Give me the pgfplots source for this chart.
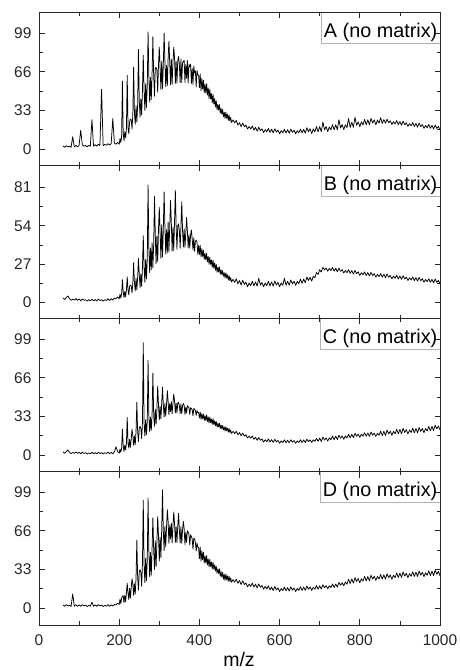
\documentclass[border=0pt]{standalone}
\usepackage{pgfplots}
\usepackage{pgfplotstable}
\pgfplotsset{compat=1.18}
\usepackage{fontspec}
\setmainfont{Liberation Sans}

\pgfplotstableread{
x a b c d
60 2.6 3.1 2.6 2.6
64 1.4 1.9 1.4 1.4
68 2.8 3.3 2.8 2.8
72 1.7 4.5 4.2 1.7
76 2.4 2.6 2.3 2.4
80 1.3 1.4 1.2 1.2
84 10.5 2.1 2.0 12
88 1.7 1.6 1.4 1.5
92 3.0 2.6 2.5 2.7
96 1.8 1.4 1.3 1.4
100 3.1 2.4 2.2 2.6
104 16 1.1 1.0 1.4
108 3.4 2.4 2.3 2.8
112 2.3 1.4 1.3 1.7
116 3.0 1.9 1.9 2.4
120 1.8 0.8 0.8 1.2
124 3.0 1.8 1.7 2.2
128 2.2 1.1 1.0 1.5
132 25 2.2 2.2 5
136 2.4 1.0 1.0 1.4
140 3.6 2.0 2.0 2.6
144 2.4 0.9 0.9 1.4
148 4.0 2.3 2.3 2.8
152 2.9 1.2 1.2 1.7
156 51 1.9 1.9 2.4
160 2.6 0.8 0.8 1.2
164 3.8 1.8 1.8 2.2
168 3.2 1.3 1.3 1.5
172 4.5 2.5 2.3 2.7
176 3.3 1.3 1.0 1.4
180 4.5 2.6 2.1 2.6
184 26 1.6 1.0 1.6
188 5.0 3.0 2.6 3.0
192 4.0 2.5 7 2.5
196 5.6 3.8 3.0 4.0
200 4 2.5 1.5 3
202 8.9 5.7 5 7.5
204 5.5 3 2.3 3.8
206 10.3 6 5.7 8.1
208 58 16 22 10
210 13.5 7.5 7.8 10.5
212 6.8 3.3 2.9 4.2
214 14.7 7.6 8.3 10.9
216 9.6 4.1 4.3 5.4
218 17.1 8.6 9.8 12.5
220 63 18 32 21
222 18.5 8.8 10.2 12.9
224 13 5.2 5.8 7.2
226 23.6 11.3 13.2 16.8
228 25.4 12.1 6.6 8.4
230 25 11.6 13.6 17.3
232 17 6.6 22 25
234 29.6 13.7 16.2 20.5
236 70 28 8.2 10.8
238 30.7 13.8 16.3 20.7
240 21 8 9 12
242 36.8 17 20 25.6
244 23 8.8 45 58
246 37.9 17.5 20.3 26.6
248 85 31 11.4 15.2
250 42.2 19.9 22.8 30.4
252 27 10.4 24.4 32.8
254 42.7 20 22.8 30.8
256 29 11.2 13.8 18.4
258 50.7 24.7 27.7 37.9
260 80 47 96 92
262 50.4 25.1 27.2 37.6
264 33 14.2 16.2 21.6
266 55.8 30.3 30.1 42.5
268 35.4 16.4 17.4 23.2
270 54.9 31.1 29.2 41.6
272 100 83 81 94
274 62.1 37.9 33.2 48.4
276 40 20.8 19.8 26.4
278 61.1 38.4 32.3 47.3
280 42 23 21 28
282 64.4 42 34.5 50.8
284 96 24.4 70 77
286 62.4 41 34.2 49.6
288 45 75 24.6 32.8
290 69.4 48 39.2 57.4
292 69.6 27.2 26.4 35.2
294 67.4 46.7 38.9 56.2
296 48.4 28.6 59 78
298 72 51.7 42.4 61.6
300 87 67 30 40
302 69.6 49.5 41.4 60.4
304 50.8 31 30.8 43
306 75.2 54.9 44.6 67.3
308 51.6 32 58 101
310 72.4 52 43 66.2
312 99 78 32.4 49
314 74.4 53.8 44.1 69.6
316 53.2 34 33.2 52
318 71.6 51.2 42.8 68.8
320 54 35 55 84
322 77.4 56.5 45.7 74.2
324 92 35.4 34.4 55.2
326 73.9 53.3 44 70.8
328 54.8 72 37 59
330 76.9 56 45.5 72.6
332 55.2 36.2 35.2 55.6
334 73.5 52.9 43.9 69.5
336 87 36.6 52 82
338 78 57 46 72.3
340 56 79 36 56
342 74.6 53.7 44.2 69.3
344 56.2 37.4 35.8 55.8
346 75.6 54 44.2 69.6
348 79 55.4 45 81
350 72.3 50.8 42.3 66.8
352 56.6 38.2 35.4 55.4
354 76.8 53.8 43.7 69.5
356 56.8 71 35.2 55.2
358 73.6 50.8 41.9 66.8
360 75 39 44 74
362 75.7 51.8 42.4 67.7
364 56.8 38.8 34.6 54.2
366 72.2 48.9 40.8 64.5
368 60.4 60 35.8 56
370 75.5 50.5 42 66
372 56.4 38.4 41.4 64.8
374 72.1 47.8 40.4 62.9
376 70 38.2 34.6 53.7
378 72.5 47.5 40.4 62.4
380 56 51 39.8 61.2
382 68.7 44.9 38.7 59
384 55 37 33.4 50.2
386 70.9 45.7 39.6 59.7
388 65 36 39.4 59
390 66.7 42.9 37.8 55.9
392 53 44 33.8 48.6
394 67 42.7 37.9 55.4
396 63.1 34 36.2 52
398 63 40.1 36.2 51.6
400 52.4 33.8 31.6 42.2
402 64 40.3 36.7 52.1
404 49.8 32 30.4 40
406 60.1 37.8 35.2 48.7
408 51.1 32.4 31 41.1
410 58.8 36.8 34.9 47.5
412 48 30.3 29.5 38.5
414 55.2 34.5 33.4 44.4
416 47.8 30 29.5 38.3
418 55.7 34.5 34.2 44.7
420 46 28.6 28.6 36.8
422 52.1 32.4 32.5 41.9
424 43 26.8 27.3 35
426 50.9 31.9 32.4 41.5
428 42.8 26.8 27.7 35.4
430 47.2 29.8 30.7 39.1
432 39.4 24.7 26.2 33.3
434 46.6 29.8 30.9 39.1
436 38.3 24.1 26 33
438 43 27.7 29.2 36.8
440 35.8 22.6 25 31.6
442 41.2 26.8 28.6 35.7
444 33.4 21.2 23.8 29.6
446 38.2 24.9 27 33.4
448 33.2 21.4 24 29.4
450 37.8 24.9 27.1 33.4
452 30.5 19.8 22.6 27.1
454 34.8 23 25.6 31.1
456 29.6 19.5 22.3 26.3
458 33.7 22.4 25.2 30.4
460 27.6 18.4 21.4 24.6
462 31.3 20.8 23.9 28.5
464 26 17.2 20.4 23.5
466 31.5 20.8 24.1 29
468 26.2 17.2 20.6 24.1
470 29.6 19.4 22.9 27.4
472 24.3 15.8 19.4 22.8
474 28.9 18.8 22.5 27
476 23.9 15.4 19.2 22.8
478 27 17.4 21.3 25.6
480 22.6 14.4 18.4 22
484 24.8 16.2 20.1 24.2
488 22.2 14 18.3 22
492 24.4 16.6 20.2 24.6
496 20.4 13 17.3 21
500 22.4 15.4 19.1 23.4
504 19 12.2 16.4 20
508 22.2 15.6 18.7 23.2
512 19 12.6 16.2 20
516 20.4 14.2 17.2 21.4
520 17 11 14.5 18
524 19.2 13.6 16.1 20.4
528 17 11.8 14.3 18.4
532 19.6 14.8 16.2 21.2
536 16 11.6 13.3 17.8
540 18.4 14.4 15.1 20.4
544 15.2 11.4 12.5 17.2
548 18.6 17 14.9 20.6
552 15.6 12.2 12.5 17.6
556 17.2 14 13.6 19.2
560 14 11 11 16
564 16.5 13.6 12.9 18.3
568 14.6 11.8 11.4 16.2
572 17.5 14.8 13.6 18.9
576 14.2 11.6 11 15.4
580 16.9 14.4 13.1 17.9
584 13.8 11.4 10.7 14.8
588 17.3 15 13.3 18.3
592 14.4 12.2 11.1 15.4
596 16.1 14 12.4 17.1
600 13 11 10 14
604 15.6 13.7 11.9 16.6
608 13.8 12 10.6 14.8
612 16.8 17 12.9 17.8
616 13.6 12 10.4 14.6
620 16.4 14.9 12.6 17.4
624 13.4 12 10.3 14.4
628 17 15.7 13 18
632 14.2 13 10.9 15.2
636 16 14.9 12.3 17
640 13 12 10 14
644 15.6 14.8 11.9 16.7
648 13.8 13.2 10.6 15
652 16.9 16.4 13 18.1
656 13.8 13.4 10.5 15
660 16.7 16.4 12.9 17.9
664 13.5 13.8 10.6 15
668 18.1 17.8 13.4 18.7
672 14.7 15.4 11.4 16
676 17.3 17.6 12.9 17.9
680 13.1 15 10.7 15
684 17.1 18.4 12.9 17.7
688 14.6 17.4 11.6 16
692 19.2 21 14.1 19.1
696 14.6 19.7 11.7 16
700 19.1 23 14.4 18.9
704 14.8 21.4 11.5 16.1
708 23 24.7 15.3 19.8
712 16.3 22.9 12.7 17.2
716 19.1 24.3 14.6 19.1
720 14.8 22 11.8 16.3
724 18.8 23.9 14.6 19
728 16.3 22.4 12.9 17.4
732 20.9 24.6 16.1 20.5
736 16.3 22 13 17.5
740 20.7 24.1 16 20.4
744 16.3 21.6 13.2 17.8
748 25 24.2 16.9 21.8
752 17.9 21.9 14.3 19.4
756 20.8 23.1 16.2 21.6
760 16.5 20.7 13.4 19
764 20.6 22.5 16.2 22.2
768 18.2 20.9 14.5 20.3
772 26 23.1 17.7 24.5
776 18.3 20.4 14.6 20.8
780 22.8 22.4 17.6 24.8
784 18.5 20 14.8 21.2
788 27 22.5 18.5 25.9
792 20.2 20.2 15.9 22.6
796 23.1 21.5 17.8 25.1
800 19 19 15 21.5
804 23.1 20.9 17.7 25
808 20.5 19.4 16 22.9
812 25.2 21.5 19 26.9
816 20.5 18.9 15.9 23
820 24.9 21 18.8 26.8
824 20.6 18.6 15.9 23.2
828 26.1 21.1 19.6 27.9
832 22.1 18.9 16.8 24.6
836 24.9 20.2 18.7 27.1
840 20.6 17.8 15.8 23.5
844 24.7 19.7 18.5 26.9
848 22.1 18.1 16.8 24.7
852 26.6 20.3 20.3 28.6
856 21.7 17.7 16.4 24.6
860 25.1 19.8 20.2 28.3
864 21.9 17.4 16.6 24.6
868 25.4 20 21.2 29.2
872 22.4 17.7 17.9 25.8
876 24 19 20.3 28.2
880 20.9 16.6 16.7 24.5
884 23.3 18.5 20.2 28
888 21.3 17 18 25.9
892 24.2 19.1 22 29.9
896 20.8 16.5 18 26
900 23.4 18.6 21.8 29.8
904 20.2 16.2 18.1 26.1
908 23.7 18.8 22.7 30.7
912 20.7 16.5 19.2 27.2
916 22.4 17.8 21.6 29.6
920 19.2 15.4 17.9 25.9
924 21.6 17.3 21.3 29.3
928 19.7 15.8 19.1 27.1
932 22.5 17.9 22.9 30.9
936 19.2 15.3 18.9 26.9
940 21.8 17.4 22.6 30.6
944 18.6 15 18.9 26.9
948 22.1 17.6 23.5 31.5
952 19.1 15.3 20.1 28
956 20.8 16.6 22.6 30.4
960 17.6 14.2 19 26.7
964 20 16.1 22.5 30.1
968 18.1 14.6 20.4 27.9
972 20.9 16.7 24.4 31.7
976 17.6 14.1 20.5 27.7
980 20.2 16.2 24.4 31.4
984 17 13.8 20.8 27.7
988 20.5 16.4 25.5 32.3
992 17.5 14.1 22.3 28.8
996 19.2 15.4 24.8 31.2
1000 16 13 21.3 27.5
}\data

\pgfplotsset{
  panel/.style={
    scale only axis, width=401pt, height=153pt,
    anchor=south west,
    xmin=0, xmax=1000,
    xtick={0,200,...,1000},
    minor x tick num=1, minor y tick num=1,
    tick align=inside,
    major tick length=5.5pt, minor tick length=3.5pt,
    axis line style={line width=1pt, black!85},
    tick style={line width=0.8pt, black!85},
    tick label style={font=\fontsize{15.5}{18}\selectfont, black!85},
    /pgf/number format/assume math mode=true,
    /pgf/number format/1000 sep={},
    yticklabel style={xshift=-4pt},
    xticklabel style={yshift=-6pt},
    clip mode=individual,
  },
  spec/.style={black, line width=0.75pt, line join=round},
}
\tikzset{
  labbox/.style={anchor=north east, inner xsep=2.5pt, inner ysep=0pt,
    text height=24.3pt, text depth=5.4pt, font=\fontsize{19.8}{24}\selectfont},
}

\begin{document}
\begin{tikzpicture}
\useasboundingbox (0,0) rectangle (460pt,670pt);

% Panel A
\begin{axis}[panel, at={(39pt,504pt)}, ymin=-14.6, ymax=116.2,
  ytick={0,33,66,99}, xticklabels={}]
\addplot[spec] table[x=x, y=a] {\data};
\node[labbox] (la) at (rel axis cs:1,1) {A (no matrix)};
\draw[gray!60, line width=0.6pt] (la.north west) -- (la.south west) -- (la.south east);
\end{axis}

% Panel B
\begin{axis}[panel, at={(39pt,351pt)}, ymin=-11.8, ymax=96.3,
  ytick={0,27,54,81}, xticklabels={}]
\addplot[spec] table[x=x, y=b] {\data};
\node[labbox] (lb) at (rel axis cs:1,1) {B (no matrix)};
\draw[gray!60, line width=0.6pt] (lb.north west) -- (lb.south west) -- (lb.south east);
\end{axis}

% Panel C
\begin{axis}[panel, at={(39pt,198pt)}, ymin=-14.6, ymax=116.2,
  ytick={0,33,66,99}, xticklabels={}]
\addplot[spec] table[x=x, y=c] {\data};
\node[labbox] (lc) at (rel axis cs:1,1) {C (no matrix)};
\draw[gray!60, line width=0.6pt] (lc.north west) -- (lc.south west) -- (lc.south east);
\end{axis}

% Panel D
\begin{axis}[panel, at={(39pt,45pt)}, ymin=-14.6, ymax=116.2,
  ytick={0,33,66,99}]
\addplot[spec] table[x=x, y=d] {\data};
\node[labbox] (ld) at (rel axis cs:1,1) {D (no matrix)};
\draw[gray!60, line width=0.6pt] (ld.north west) -- (ld.south west) -- (ld.south east);
\end{axis}

\node[anchor=base, font=\fontsize{19.5}{22}\selectfont] at (239pt,4pt) {m/z};
\end{tikzpicture}
\end{document}
